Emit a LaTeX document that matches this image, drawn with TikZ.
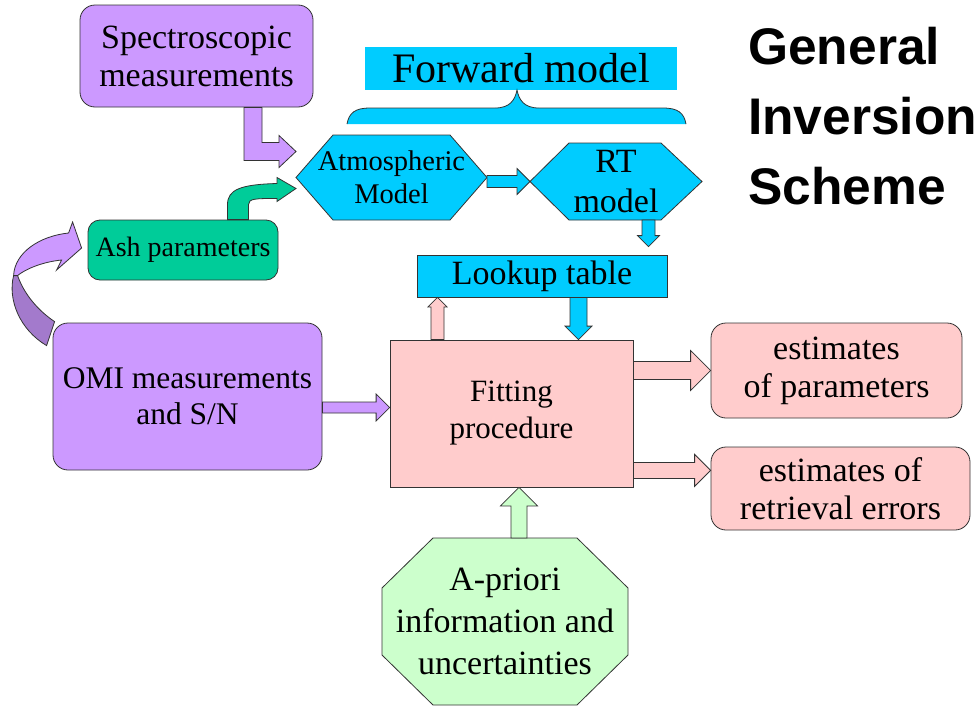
\documentclass[tikz,border=0pt]{standalone}
\usepackage{fontspec}
\setmainfont{Liberation Serif}
\newfontfamily\headfont{Liberation Sans}
\usetikzlibrary{calc}
\pgfdeclarelayer{background}
\pgfsetlayers{background,main}

\definecolor{lavender}{HTML}{CC99FF}
\definecolor{darklavender}{HTML}{A37ACC}
\definecolor{ashgreen}{HTML}{00CC99}
\definecolor{skyblue}{HTML}{00CCFF}
\definecolor{rosepink}{HTML}{FFCCCC}
\definecolor{palegreen}{HTML}{CCFFCC}
\definecolor{edgegray}{HTML}{333333}

% block arrows: [style]{from}{to}{half shaft}{half head}
\newcommand{\fatright}[5][]{%
  \draw[arrowline,#1] let \p1=(#2), \p2=(#3) in
    (\x1,\y1+#4pt) -- (\x2-#5pt,\y1+#4pt) -- (\x2-#5pt,\y1+#5pt) -- (\x2,\y1) --
    (\x2-#5pt,\y1-#5pt) -- (\x2-#5pt,\y1-#4pt) -- (\x1,\y1-#4pt) -- cycle;}
\newcommand{\fatup}[5][]{%
  \draw[arrowline,#1] let \p1=(#2), \p2=(#3) in
    (\x1-#4pt,\y1) -- (\x1-#4pt,\y2-#5pt) -- (\x1-#5pt,\y2-#5pt) -- (\x1,\y2) --
    (\x1+#5pt,\y2-#5pt) -- (\x1+#4pt,\y2-#5pt) -- (\x1+#4pt,\y1) -- cycle;}
\newcommand{\fatdown}[5][]{%
  \draw[arrowline,#1] let \p1=(#2), \p2=(#3) in
    (\x1-#4pt,\y1) -- (\x1-#4pt,\y2+#5pt) -- (\x1-#5pt,\y2+#5pt) -- (\x1,\y2) --
    (\x1+#5pt,\y2+#5pt) -- (\x1+#4pt,\y2+#5pt) -- (\x1+#4pt,\y1) -- cycle;}

\begin{document}
\begin{tikzpicture}[x=1pt,y=-1pt]
\tikzstyle{every node}+=[inner sep=2pt, align=center]
\tikzstyle{roundbox}=[draw=edgegray, line width=0.8, rounded corners=15]
\tikzstyle{plainbox}=[draw=edgegray, line width=0.8]
\tikzstyle{shapebox}=[draw=none, outer sep=0pt]
\tikzstyle{arrowline}=[draw=edgegray, line width=0.8, line join=miter]
\tikzstyle{outline}=[draw=edgegray, line width=0.8]
\useasboundingbox (0,0) rectangle (980,707);
\begin{pgfonlayer}{background}
\fill[white] (0,0) rectangle (980,707);
\end{pgfonlayer}

% boxes
\node[roundbox, fill=lavender, minimum width=233, minimum height=102, font=\fontsize{34}{38}\selectfont] (spec) at (196.5,56) {Spectroscopic\\measurements};
\node[roundbox, rounded corners=12, fill=ashgreen, minimum width=190, minimum height=60, font=\fontsize{28}{32}\selectfont] (ash) at (183,250) {Ash parameters};
\node[fill=skyblue, minimum width=312, minimum height=43, font=\fontsize{42}{46}\selectfont] (fwd) at (521,68.5) {Forward model};
\node[shapebox, minimum width=191, minimum height=85, font=\fontsize{28.5}{33}\selectfont] (atm) at (391.5,177.5) {Atmospheric\\Model};
\node[shapebox, minimum width=172, minimum height=77, font=\fontsize{34}{40}\selectfont] (rt) at (616,181.5) {RT\\model};
\node[plainbox, fill=skyblue, minimum width=250, minimum height=42, font=\fontsize{34}{38}\selectfont] (lookup) at (542,276) {Lookup table};
\node[plainbox, fill=rosepink, minimum width=243, minimum height=147, font=\fontsize{31}{37}\selectfont] (fit) at (511.5,413.5) {Fitting\\procedure};
\node[roundbox, fill=lavender, minimum width=269, minimum height=147, font=\fontsize{31.5}{36}\selectfont] (omi) at (187.5,396.5) {OMI measurements\\and S/N};
\node[roundbox, fill=rosepink, minimum width=251, minimum height=95, font=\fontsize{34}{38}\selectfont] (est1) at (836.5,370.5) {estimates\\of parameters};
\node[roundbox, fill=rosepink, minimum width=259, minimum height=83, font=\fontsize{34}{38}\selectfont] (est2) at (840.5,488.5) {estimates of\\retrieval errors};
\node[shapebox, minimum width=246, minimum height=167, font=\fontsize{34}{42}\selectfont] (apriori) at (505,621.5) {A-priori\\information and\\uncertainties};
\node[anchor=north west, align=left, inner sep=0pt, font=\headfont\bfseries\fontsize{51.5}{70}\selectfont] (title) at (748,27) {General\\Inversion\\Scheme};

% hexagons and octagon
\begin{pgfonlayer}{background}
\draw[outline, fill=skyblue] (atm.west) -- ([xshift=37]atm.north west) -- ([xshift=-37]atm.north east) -- (atm.east) -- ([xshift=-37]atm.south east) -- ([xshift=37]atm.south west) -- cycle;
\draw[outline, fill=skyblue] (rt.west) -- ([xshift=39]rt.north west) -- ([xshift=-41]rt.north east) -- (rt.east) -- ([xshift=-41]rt.south east) -- ([xshift=39]rt.south west) -- cycle;
\draw[outline, fill=palegreen] ([xshift=51]apriori.north west) -- ([xshift=-51]apriori.north east) -- ([yshift=-50]apriori.north east) -- ([yshift=50]apriori.south east) -- ([xshift=-51]apriori.south east) -- ([xshift=51]apriori.south west) -- ([yshift=50]apriori.south west) -- ([yshift=-50]apriori.north west) -- cycle;
\end{pgfonlayer}

% brace under forward model
\draw[outline, fill=skyblue] (347,124) .. controls (349,113) and (355,108) .. (370,108) -- (495,108) .. controls (510,108) and (515,100) .. (517,90) .. controls (519,100) and (524,108) .. (539,108) -- (663,108) .. controls (678,108) and (684,113) .. (686,124);

% bent and curved arrows
\draw[arrowline, fill=lavender] let \p1=([xshift=56.5]spec.south), \p2=([yshift=26]atm.west) in
  (\x1-9pt,\y1) -- (\x1-9pt,\y2-9pt) -- (\x2-17pt,\y2-9pt) -- (\x2-17pt,\y2-16pt) -- (\x2,\y2) -- (\x2-17pt,\y2+16pt) -- (\x2-17pt,\y2+9pt) -- (\x1+9pt,\y2+9pt) -- (\x1+9pt,\y1) -- cycle;
\draw[arrowline, fill=ashgreen] let \p1=([xshift=54.5]ash.north), \p2=([yshift=-11]atm.west) in
  (\x1-10pt,\y1) -- (\x1-10pt,\y1+15pt) .. controls (\x1-10pt,\y1+30pt) and (\x1+3pt,\y2+4pt) .. (\x2-19pt,\y2+5pt) -- (\x2-19pt,\y2+11pt) -- (\x2,\y2) -- (\x2-19pt,\y2-13pt) -- (\x2-19pt,\y2-10pt) .. controls (\x1+18pt,\y2-10pt) and (\x1+11pt,\y2-10pt) .. (\x1+11pt,\y1+15pt) -- (\x1+11pt,\y1) -- cycle;
\draw[arrowline, fill=lavender] let \p1=(omi.north west), \p2=([xshift=-6,yshift=2]ash.west) in
  (\x1-39pt,\y1+47pt) .. controls (\x1-38pt,\y1+70pt) and (\x2-42pt,\y2+12pt) .. (\x2-13pt,\y2+15pt) -- (\x2-9pt,\y2+26pt) -- (\x2,\y2) -- (\x2-25pt,\y2-22pt) -- (\x2-20pt,\y2-12pt) .. controls (\x2-40pt,\y2-14pt) and (\x1-28pt,\y1+53pt) .. (\x1-35pt,\y1+47pt) -- cycle;
\draw[arrowline, fill=darklavender] let \p1=(omi.north west) in
  (\x1-39pt,\y1+47pt) .. controls (\x1-45pt,\y1+23pt) and (\x1-33pt,\y1-7pt) .. (\x1-6pt,\y1-23pt) -- (\x1+2pt,\y1+1pt) .. controls (\x1-13pt,\y1+11pt) and (\x1-28pt,\y1+27pt) .. (\x1-35pt,\y1+47pt) -- cycle;

% straight arrows
\fatright[fill=skyblue]{atm.east |- rt.west}{rt.west}{6}{13}
\fatdown[fill=skyblue]{[xshift=32.5]rt.south}{[yshift=8]lookup.north}{6.5}{11}
\fatdown[fill=skyblue]{[xshift=36.5]lookup.south}{fit.north}{8.5}{13.5}
\fatup[fill=rosepink]{[xshift=-74]fit.north}{lookup.south}{6.5}{9.5}
\fatright[fill=lavender]{[yshift=-11]omi.east}{fit.west}{5.5}{13.5}
\fatright[fill=rosepink]{fit.east |- est1.west}{est1.west}{9}{20}
\fatright[fill=rosepink]{[yshift=17]fit.south east}{est2.west}{8}{16}
\fatup[fill=palegreen]{[xshift=14]apriori.north}{fit.south}{8}{18.5}
\end{tikzpicture}
\end{document}
